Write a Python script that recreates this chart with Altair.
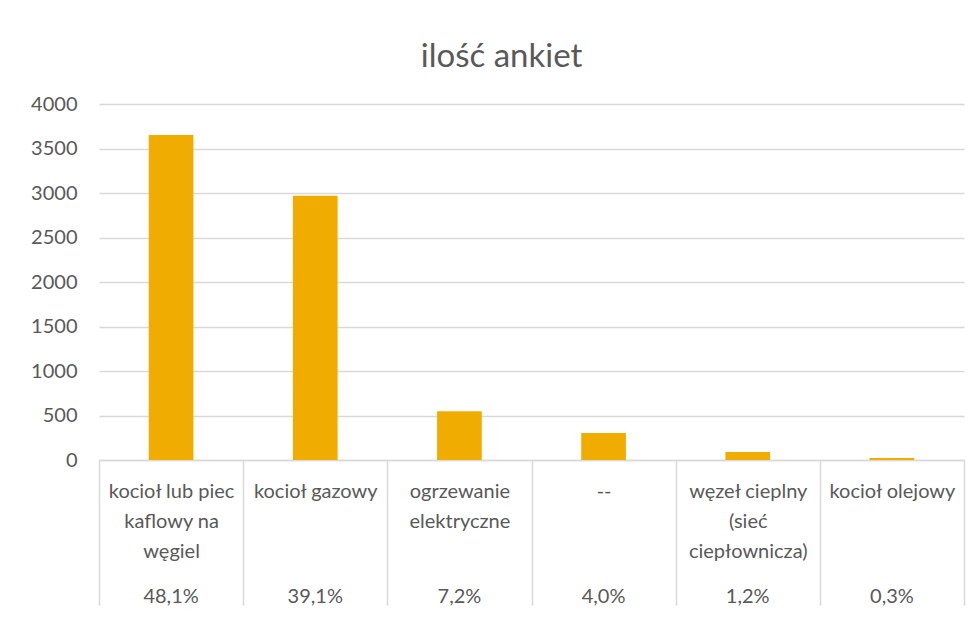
import json
import altair as alt
import pandas as pd

# ---- data ----
categories = [
    "kocioł lub piec kaflowy na węgiel",
    "kocioł gazowy",
    "ogrzewanie elektryczne",
    "--",
    "węzeł cieplny (sieć ciepłownicza)",
    "kocioł olejowy",
]
label_lines = [
    ["kocioł lub piec", "kaflowy na", "węgiel"],
    ["kocioł gazowy"],
    ["ogrzewanie", "elektryczne"],
    ["--"],
    ["węzeł cieplny", "(sieć", "ciepłownicza)"],
    ["kocioł olejowy"],
]
counts = [3653, 2970, 547, 304, 91, 23]
shares = ["48,1%", "39,1%", "7,2%", "4,0%", "1,2%", "0,3%"]
y_ticks = [0, 500, 1000, 1500, 2000, 2500, 3000, 3500, 4000]

df = pd.DataFrame({"cat": categories, "count": counts, "share": shares})

# label expression: map each category to its wrapped lines
expr = "''"
for c, lines in reversed(list(zip(categories, label_lines))):
    expr = f"datum.label == {json.dumps(c)} ? {json.dumps(lines)} : ({expr})"

FONT = "Lato"
TXT = "#595959"
GRID = "#D9D9D9"
W, H = 865, 356
FS = 20

x_enc = alt.X(
    "cat:N",
    sort=categories,
    scale=alt.Scale(paddingInner=0, paddingOuter=0),
    axis=alt.Axis(
        title=None,
        labelAngle=0,
        labelExpr=expr,
        labelFont=FONT,
        labelFontSize=FS,
        labelColor=TXT,
        labelLineHeight=30,
        labelBaseline="top",
        labelPadding=-145 + 21,
        labelLimit=200,
        tickBand="extent",
        tickSize=145,
        tickColor=GRID,
        tickWidth=1.5,
        domainColor=GRID,
        domainWidth=1.5,
        labelOverlap=False,
    ),
)

bars = alt.Chart(df).mark_bar(
    color="#F0AD00", width=alt.RelativeBandSize(0.31)
).encode(
    x=x_enc,
    y=alt.Y(
        "count:Q",
        scale=alt.Scale(domain=[0, 4000]),
        axis=alt.Axis(
            title=None,
            values=y_ticks,
            format="d",
            labelFont=FONT,
            labelFontSize=FS,
            labelColor=TXT,
            labelPadding=22,
            domain=False,
            ticks=False,
            gridColor=GRID,
            gridWidth=1.5,
        ),
    ),
)

pct = alt.Chart(df).mark_text(
    font=FONT, fontSize=FS, color=TXT, baseline="middle"
).encode(
    x=alt.X("cat:N", sort=categories),
    y=alt.value(H + 137),
    text="share:N",
)

chart = (
    alt.layer(bars, pct)
    .properties(
        width=W,
        height=H,
        title=alt.TitleParams(
            "ilość ankiet",
            font=FONT,
            fontSize=33,
            fontWeight="normal",
            color=TXT,
            anchor="middle",
            dx=-30,
            offset=20,
        ),
        autosize=alt.AutoSizeParams(type="none"),
        padding={"left": 91, "top": 96, "right": 3, "bottom": 150},
    )
    .configure_view(stroke=None)
)

chart.save("out.html", embed_options={"renderer": "svg", "actions": False})
